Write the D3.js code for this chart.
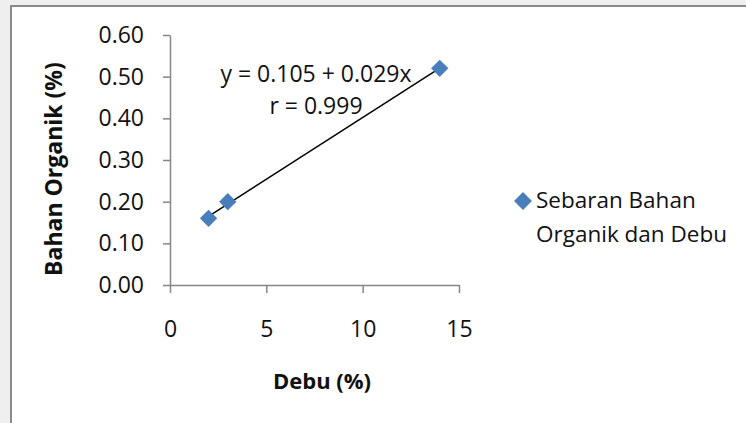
<!DOCTYPE html>
<html>
<head>
<meta charset="utf-8">
<script src="https://cdn.jsdelivr.net/npm/d3@7"></script>
<style>
  body { margin: 0; background: #efefef; }
  svg { display: block; font-family: "Open Sans", sans-serif; }
</style>
</head>
<body>
<svg id="viz_area" width="746" height="423"></svg>
<script>
// data
const debu = [2, 3, 14]
const bahanOrganik = [0.16, 0.20, 0.52]
const xTicks = [0, 5, 10, 15]
const yTicks = [0, 0.1, 0.2, 0.3, 0.4, 0.5, 0.6]
const equationText = ['y = 0.105 + 0.029x', 'r = 0.999']
const legendLines = ['Sebaran Bahan', 'Organik dan Debu']
const xTitle = 'Debu (%)'
const yTitle = 'Bahan Organik (%)'

const plot = { left: 170, right: 459, top: 35, bottom: 285 }

const svg = d3.select('#viz_area')

// chart frame
svg.append('rect')
    .attr('x', 11).attr('y', 6)
    .attr('width', 800).attr('height', 500)
    .attr('fill', '#fff')
    .attr('stroke', '#8a8a8a')
    .attr('stroke-width', 2)

const xScale = d3.scaleLinear()
    .domain([0, 15])
    .range([plot.left, plot.right])

const yScale = d3.scaleLinear()
    .domain([0, 0.6])
    .range([plot.bottom, plot.top])

function styleAxis(g) {
    g.selectAll('path, line').attr('stroke', '#868686').attr('stroke-width', 1.5)
    g.selectAll('text').attr('font-size', 23).attr('fill', '#111')
        .attr('font-family', '"Open Sans", sans-serif')
}

svg.append('g')
    .attr('transform', 'translate(0,' + plot.bottom + ')')
    .call(d3.axisBottom(xScale).tickValues(xTicks).tickFormat(d3.format('d'))
        .tickSize(8).tickSizeOuter(0).tickPadding(28))
    .call(styleAxis)

svg.append('g')
    .attr('transform', 'translate(' + plot.left + ',0)')
    .call(d3.axisLeft(yScale).tickValues(yTicks).tickFormat(d3.format('.2f'))
        .tickSize(7).tickSizeOuter(0).tickPadding(19))
    .call(styleAxis)

// linear regression from the points
const points = debu.map(function (d, i) { return { x: d, y: bahanOrganik[i] } })
const mx = d3.mean(points, function (d) { return d.x })
const my = d3.mean(points, function (d) { return d.y })
const slope = d3.sum(points, function (d) { return (d.x - mx) * (d.y - my) }) /
    d3.sum(points, function (d) { return (d.x - mx) * (d.x - mx) })
const intercept = my - slope * mx
const xExt = d3.extent(debu)

svg.append('line')
    .attr('x1', xScale(xExt[0])).attr('y1', yScale(intercept + slope * xExt[0]))
    .attr('x2', xScale(xExt[1])).attr('y2', yScale(intercept + slope * xExt[1]))
    .attr('stroke', '#000')
    .attr('stroke-width', 1.5)

const diamond = d3.symbol().type(d3.symbolSquare).size(150)

svg.selectAll('.pt')
    .data(points)
    .enter()
    .append('path')
    .attr('class', 'pt')
    .attr('d', diamond)
    .attr('transform', function (d) {
        return 'translate(' + xScale(d.x) + ',' + yScale(d.y) + ') rotate(45)'
    })
    .attr('fill', '#4a7ebb')

// trendline label
svg.selectAll('.eq')
    .data(equationText)
    .enter()
    .append('text')
    .attr('class', 'eq')
    .attr('x', 316)
    .attr('y', function (d, i) { return 82 + i * 32 })
    .attr('text-anchor', 'middle')
    .attr('font-size', 23)
    .attr('fill', '#111')
    .text(function (d) { return d })

// axis titles
svg.append('text')
    .attr('x', 322).attr('y', 389)
    .attr('text-anchor', 'middle')
    .attr('font-size', 22)
    .attr('font-weight', 'bold')
    .attr('fill', '#111')
    .text(xTitle)

svg.append('text')
    .attr('transform', 'translate(62,169) rotate(-90)')
    .attr('text-anchor', 'middle')
    .attr('font-size', 23)
    .attr('font-weight', 'bold')
    .attr('fill', '#111')
    .text(yTitle)

// legend
svg.append('path')
    .attr('d', d3.symbol().type(d3.symbolSquare).size(160))
    .attr('transform', 'translate(523,201) rotate(45)')
    .attr('fill', '#4a7ebb')

svg.selectAll('.leg')
    .data(legendLines)
    .enter()
    .append('text')
    .attr('class', 'leg')
    .attr('x', 536)
    .attr('y', function (d, i) { return 208 + i * 34 })
    .attr('font-size', 22.5)
    .attr('fill', '#111')
    .text(function (d) { return d })
</script>
</body>
</html>
